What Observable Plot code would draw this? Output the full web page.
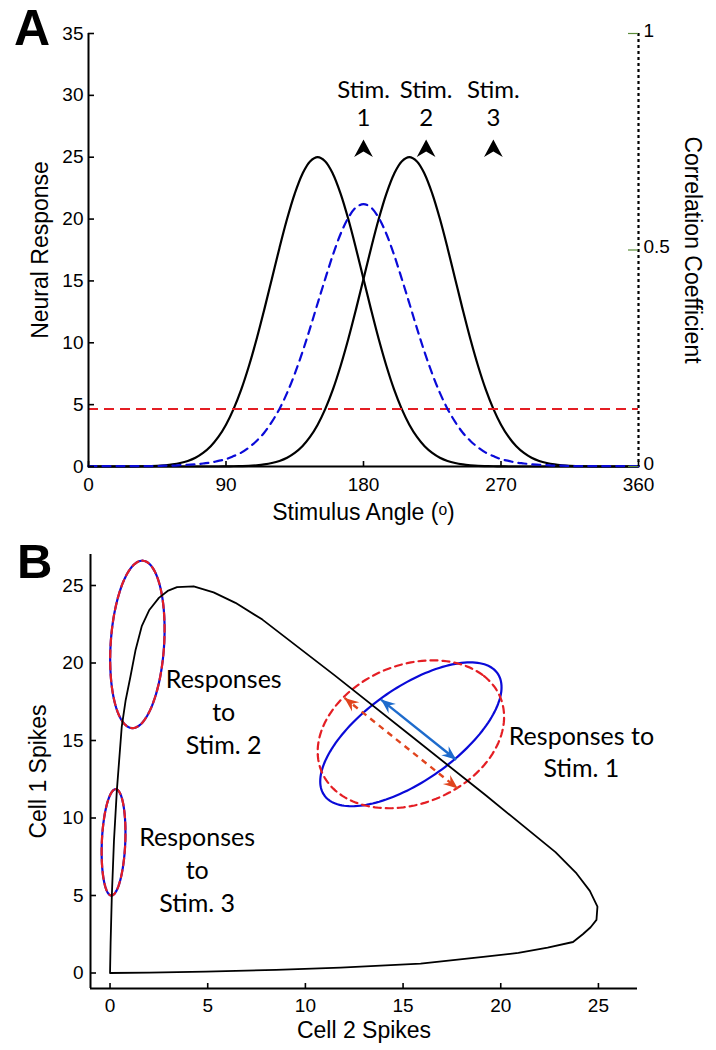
<!DOCTYPE html>
<html><head><meta charset="utf-8">
<script src="https://cdn.jsdelivr.net/npm/d3@7"></script>
<script src="https://cdn.jsdelivr.net/npm/@observablehq/plot@0.6"></script>
<style>
html,body{margin:0;padding:0;background:#fff;}
#root{position:relative;width:716px;height:1050px;overflow:hidden;background:#fff;}
.letter{position:absolute;font-family:"Liberation Sans",Arial,sans-serif;font-weight:bold;line-height:1.117;color:#000;}
</style></head><body><div id="root"></div>
<script>
// ---------------- Panel A data ----------------
const angles = [0,5,10,15,20,25,30,35,40,45,50,55,60,65,70,75,80,85,90,95,100,105,110,115,120,125,130,135,140,145,150,155,160,165,170,175,180,185,190,195,200,205,210,215,220,225,230,235,240,245,250,255,260,265,270,275,280,285,290,295,300,305,310,315,320,325,330,335,340,345,350,355,360];
// tuning curve peaking near 150 deg
const cellLeftResp = [0,0,0,0,0,0,0.01,0.02,0.03,0.05,0.10,0.17,0.28,0.45,0.71,1.10,1.64,2.39,3.38,4.66,6.23,8.12,10.28,12.66,15.16,17.67,20.02,22.06,23.65,24.66,25.00,24.66,23.65,22.06,20.02,17.67,15.16,12.66,10.28,8.12,6.23,4.66,3.38,2.39,1.64,1.10,0.71,0.45,0.28,0.17,0.10,0.05,0.03,0.02,0.01,0,0,0,0,0,0,0,0,0,0,0,0,0,0,0,0,0,0];
// tuning curve peaking near 210 deg
const cellRightResp = [0,0,0,0,0,0,0,0,0,0,0,0,0,0,0,0,0,0,0.01,0.02,0.03,0.05,0.10,0.17,0.28,0.45,0.71,1.10,1.64,2.39,3.38,4.66,6.23,8.12,10.28,12.66,15.16,17.67,20.02,22.06,23.65,24.66,25.00,24.66,23.65,22.06,20.02,17.67,15.16,12.66,10.28,8.12,6.23,4.66,3.38,2.39,1.64,1.10,0.71,0.45,0.28,0.17,0.10,0.05,0.03,0.02,0.01,0,0,0,0,0,0];
// correlation coefficient (right axis)
const corrCoef = [0.001,0.001,0.001,0.001,0.001,0.001,0.001,0.001,0.001,0.001,0.002,0.002,0.003,0.004,0.005,0.007,0.009,0.013,0.017,0.024,0.032,0.044,0.059,0.078,0.103,0.133,0.170,0.214,0.264,0.319,0.377,0.434,0.489,0.537,0.574,0.598,0.606,0.598,0.574,0.537,0.489,0.434,0.377,0.319,0.264,0.214,0.170,0.133,0.103,0.078,0.059,0.044,0.032,0.024,0.017,0.013,0.009,0.007,0.005,0.004,0.003,0.002,0.002,0.001,0.001,0.001,0.001,0.001,0.001,0.001,0.001,0.001,0.001];
const corrThreshold = [0.133];
const respTicks = [0,5,10,15,20,25,30,35];
const angleTicks = [0,90,180,270,360];
const corrTicks = [0,0.5,1];
const corrTickLabels = ["0","0.5","1"];
const stimAngles = [180,221,265];
const stimNumbers = ["1","2","3"];
const respMax = 35; // right axis: correlation 1 <-> response 35

// ---------------- Panel B data ----------------
const trajX = [0,0.03,0.09,0.2,0.35,0.6,0.8,1.04,1.3,1.63,2.0,2.5,2.95,3.43,4.28,5.3,6.42,7.8,11.5,15.35,19.2,22.8,23.88,24.56,24.95,24.9,24.6,24.2,23.7,22.4,20.9,19.1,15.9,11.8,8.5,4.9,2.0,0];
const trajY = [0,2.0,4.9,8.5,11.8,15.9,17.6,19.1,20.8,22.4,23.4,24.2,24.65,24.9,24.95,24.56,23.88,22.8,19.2,15.35,11.5,7.8,6.42,5.3,4.28,3.43,2.95,2.5,2.0,1.63,1.3,1.04,0.6,0.35,0.2,0.09,0.03,0];
const ellStim = ["Stim. 2","Stim. 3","Stim. 1","Stim. 1"];
const ellKind = ["both","both","correlated","shuffled"];
const ellCx = [1.4,0.18,15.4,15.4];
const ellCy = [21.2,8.43,15.4,15.4];
const ellAx = [0.25,0.11,4.22,3.75];
const ellAy = [5.4,3.43,4.22,3.75];
const ellBx = [1.37,0.6,1.93,2.95];
const ellBy = [0,0,-1.93,-2.95];
const arrowKind = ["correlated","shuffled"];
const arrowX1 = [13.87,12.0], arrowY1 = [17.64,17.75];
const arrowX2 = [17.72,17.8], arrowY2 = [13.76,11.9];
const spikeTicks = [0,5,10,15,20,25];

// ---------------- build tables ----------------
const tuning = angles.map((a,i)=>({angle:a, left:cellLeftResp[i], right:cellRightResp[i], corr:corrCoef[i]}));
const traj = trajX.map((x,i)=>({x, y:trajY[i]}));
const ellPts = [];
ellCx.forEach((cx,i)=>{
  for(let k=0;k<=160;k++){
    const t = 2*Math.PI*k/160;
    ellPts.push({id:i, kind:ellKind[i],
      x: cx + ellAx[i]*Math.cos(t) + ellBx[i]*Math.sin(t),
      y: ellCy[i] + ellAy[i]*Math.cos(t) + ellBy[i]*Math.sin(t)});
  }
});

const W = 716;
const colBlack="#000", colBlue="#0a0ad8", colRed="#e41e24", colRedArrow="#e0441e", colBlueArrow="#1d6bcc", colGreen="#5b8c3a";
const FONT = '"Liberation Sans", Arial, sans-serif';
const arrowSym = (len, halfW, notch) => ({
  draw(ctx, size){
    const s = Math.sqrt(size/Math.PI);
    ctx.moveTo(0,0);
    ctx.lineTo(halfW*s, len*s);
    ctx.lineTo(0, notch*s);
    ctx.lineTo(-halfW*s, len*s);
    ctx.closePath();
  }
});
const mid = {textAnchor: "middle", lineAnchor: "middle"};

// ---------------- Panel A ----------------
const A = {h:530, ml:88, mr:78, mt:33, mb:64};
const innerWA = W - A.ml - A.mr, innerHA = A.h - A.mt - A.mb;
const plotA = Plot.plot({
  width: W, height: A.h,
  marginLeft: A.ml, marginRight: A.mr, marginTop: A.mt, marginBottom: A.mb,
  x: {domain:[0,360]},
  y: {domain:[0,35]},
  style: {fontFamily: FONT, fontSize:"19px", color:"#000", background:"transparent", overflow:"visible"},
  marks: [
    Plot.line(tuning, {x:"angle", y:"left", stroke: colBlack, strokeWidth: 2.2, curve:"catmull-rom"}),
    Plot.line(tuning, {x:"angle", y:"right", stroke: colBlack, strokeWidth: 2.2, curve:"catmull-rom"}),
    Plot.ruleY(corrThreshold, {y: d=>d*respMax, stroke: colRed, strokeWidth: 2, strokeDasharray: "10,6"}),
    Plot.ruleX([0], {stroke: colBlack, strokeWidth: 2}),
    Plot.ruleY([0], {stroke: colBlack, strokeWidth: 2.2}),
    Plot.line(tuning, {x:"angle", y: d=>d.corr*respMax, stroke: colBlue, strokeWidth: 2.2, strokeDasharray: "8,6", curve:"catmull-rom"}),
    Plot.ruleX([360], {stroke: colBlack, strokeWidth: 2.2, strokeDasharray: "3,3"}),
    Plot.tickY(respTicks, {y: d=>d, insetRight: innerWA - 6, stroke: colBlack, strokeWidth: 1.6}),
    Plot.tickX(angleTicks, {x: d=>d, insetTop: innerHA - 5, stroke: colBlack, strokeWidth: 1.6}),
    Plot.tickY(corrTicks, {y: d=>d*respMax, insetLeft: innerWA - 10, stroke: colGreen, strokeWidth: 1.2}),
    Plot.axisY(respTicks, {tickSize: 0, tickPadding: 5, label: null, fontSize: 19}),
    Plot.axisX(angleTicks, {tickSize: 0, tickPadding: 11, label: null, fontSize: 19}),
    Plot.text(corrTicks, {x: 360, y: d=>d*respMax, text: (d,i)=>corrTickLabels[i], dx: 5, dy: -3, textAnchor: "start", fontSize: 19}),
    Plot.text(["Neural Response"], {...mid, text: d=>d, frameAnchor: "left", rotate: -90, dx: -48, fontSize: 23}),
    Plot.text(["Correlation Coefficient"], {...mid, text: d=>d, frameAnchor: "right", rotate: 90, dx: 54, fontSize: 23}),
    Plot.text(["Stimulus Angle (ᵒ)"], {...mid, text: d=>d, frameAnchor: "bottom", dy: 46, fontSize: 23}),
    Plot.text(stimAngles, {...mid, x: d=>d, text: ()=>"Stim.", frameAnchor: "top", dy: 57, fontFamily: "Lato", fontSize: 24}),
    Plot.text(stimAngles, {...mid, x: d=>d, text: (d,i)=>stimNumbers[i], frameAnchor: "top", dy: 85, fontFamily: "Lato", fontSize: 24}),
    Plot.dot(stimAngles, {x: d=>d, frameAnchor: "top", dy: 106, r: 13, symbol: arrowSym(1.35, 0.72, 0.92), fill: colBlack, stroke: "none"})
  ]
});

// ---------------- Panel B ----------------
const B = {top:530, h:520, ml:90, mr:79, mt:24, mb:62};
const xDomB = [-1,27], yDomB = [-1,27];
const innerWB = W - B.ml - B.mr, innerHB = B.h - B.mt - B.mb;
const kx = innerWB/(xDomB[1]-xDomB[0]), ky = innerHB/(yDomB[1]-yDomB[0]);
const arrows = arrowKind.map((k,i)=>({kind:k, x1:arrowX1[i], y1:arrowY1[i], x2:arrowX2[i], y2:arrowY2[i]}));
const heads = [];
arrows.forEach(a=>{
  const rot = (dx,dy)=>Math.atan2(dx*kx, dy*ky)*180/Math.PI;
  heads.push({kind:a.kind, x:a.x2, y:a.y2, rot: rot(a.x2-a.x1, a.y2-a.y1)});
  heads.push({kind:a.kind, x:a.x1, y:a.y1, rot: rot(a.x1-a.x2, a.y1-a.y2)});
});
const arrowColor = k => k==="correlated" ? colBlueArrow : colRedArrow;

const plotB = Plot.plot({
  width: W, height: B.h,
  marginLeft: B.ml, marginRight: B.mr, marginTop: B.mt, marginBottom: B.mb,
  x: {domain: xDomB},
  y: {domain: yDomB},
  style: {fontFamily: FONT, fontSize:"19px", color:"#000", background:"transparent", overflow:"visible"},
  marks: [
    Plot.ruleX([xDomB[0]], {stroke: colBlack, strokeWidth: 2}),
    Plot.ruleY([yDomB[0]], {stroke: colBlack, strokeWidth: 2}),
    Plot.tickY(spikeTicks, {y: d=>d, insetRight: innerWB - 6, stroke: colBlack, strokeWidth: 1.6}),
    Plot.tickX(spikeTicks, {x: d=>d, insetTop: innerHB - 5, stroke: colBlack, strokeWidth: 1.6}),
    Plot.axisY(spikeTicks, {tickSize: 0, tickPadding: 7, label: null, fontSize: 19}),
    Plot.axisX(spikeTicks, {tickSize: 0, tickPadding: 10, label: null, fontSize: 19}),
    Plot.line(ellPts.filter(d=>d.kind!=="shuffled"), {x:"x", y:"y", z:"id", stroke: colBlue, strokeWidth: 2.2}),
    Plot.line(ellPts.filter(d=>d.kind!=="correlated"), {x:"x", y:"y", z:"id", stroke: colRed, strokeWidth: 2.2, strokeDasharray: "7,5"}),
    Plot.line(traj, {x:"x", y:"y", stroke: colBlack, strokeWidth: 1.8}),
    Plot.link(arrows.filter(d=>d.kind==="correlated"), {x1:"x1", y1:"y1", x2:"x2", y2:"y2", stroke: colBlueArrow, strokeWidth: 2.4}),
    Plot.link(arrows.filter(d=>d.kind==="shuffled"), {x1:"x1", y1:"y1", x2:"x2", y2:"y2", stroke: colRedArrow, strokeWidth: 2.4, strokeDasharray: "6,5"}),
    Plot.dot(heads, {x:"x", y:"y", rotate:"rot", r: 9, symbol: arrowSym(1.6, 0.65, 1.05), fill: d=>arrowColor(d.kind), stroke: "none"}),
    Plot.text(["Responses\nto\nStim. 2"], {...mid, text: d=>d, x: 5.82, y: 16.94, lineHeight: 1.32, fontFamily: "Lato", fontSize: 25}),
    Plot.text(["Responses\nto\nStim. 3"], {...mid, text: d=>d, x: 4.46, y: 6.77, lineHeight: 1.32, fontFamily: "Lato", fontSize: 25}),
    Plot.text(["Responses to\nStim. 1"], {...mid, text: d=>d, x: 24.13, y: 14.36, lineHeight: 1.28, fontFamily: "Lato", fontSize: 25}),
    Plot.text(["Cell 1 Spikes"], {...mid, text: d=>d, frameAnchor: "left", rotate: -90, dx: -52, fontSize: 23}),
    Plot.text(["Cell 2 Spikes"], {...mid, text: d=>d, frameAnchor: "bottom", dy: 42, fontSize: 23})
  ]
});

const root = document.getElementById("root");
plotA.style.position = "absolute"; plotA.style.left = "0px"; plotA.style.top = "0px";
plotB.style.position = "absolute"; plotB.style.left = "0px"; plotB.style.top = B.top + "px";
root.append(plotA, plotB);
const la = document.createElement("div"); la.className="letter"; la.textContent="A";
la.style.left="14px"; la.style.top="1px"; la.style.fontSize="50px";
const lb = document.createElement("div"); lb.className="letter"; lb.textContent="B";
lb.style.left="17px"; lb.style.top="534px"; lb.style.fontSize="49px";
root.append(la, lb);
</script></body></html>
